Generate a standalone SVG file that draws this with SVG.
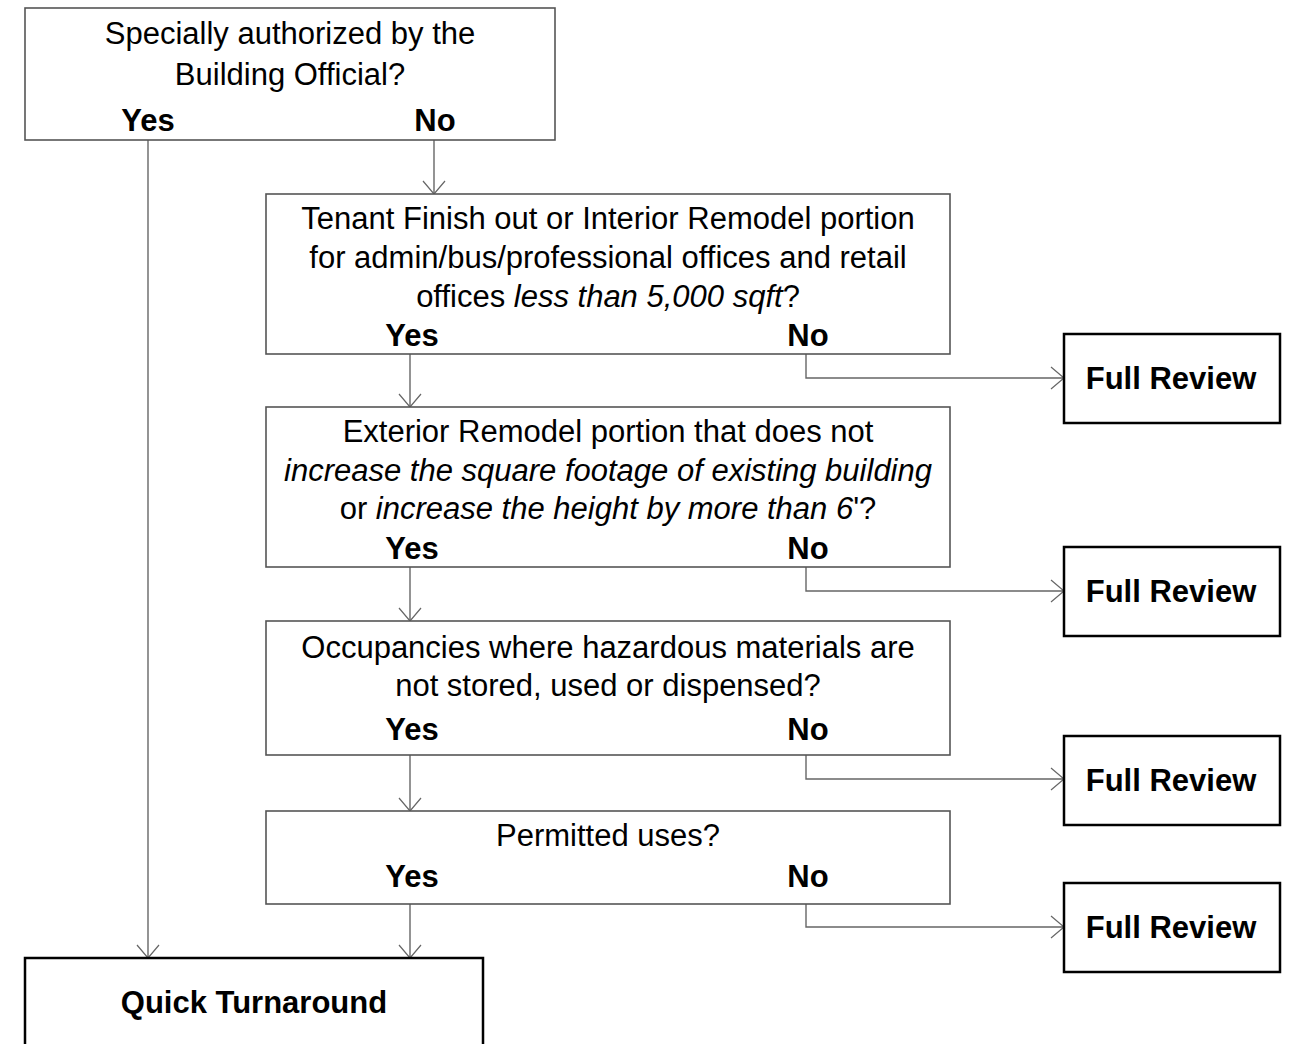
<svg xmlns="http://www.w3.org/2000/svg" width="1291" height="1044" viewBox="0 0 1291 1044">
<style>
.q{fill:#fff;stroke:#555;stroke-width:1.6}
.r{fill:#fff;stroke:#000;stroke-width:2.5}
text{font-family:"Liberation Sans",Arial,sans-serif;font-size:31px;fill:#000;text-anchor:middle}
.b{font-weight:bold}
.i{font-style:italic}
.c{fill:none;stroke:#666;stroke-width:1.4}
</style>
<defs>
<marker id="a" viewBox="0 0 16 24" refX="14" refY="12" markerWidth="16" markerHeight="24" markerUnits="userSpaceOnUse" orient="auto">
<path d="M1,1 L14,12 L1,23" fill="none" stroke="#666" stroke-width="1.2"/>
</marker>
</defs>
<rect width="1291" height="1044" fill="#fff"/>
<g id="connectors">
<path class="c" d="M148,140 V958" marker-end="url(#a)"/>
<path class="c" d="M434,140 V194" marker-end="url(#a)"/>
<path class="c" d="M410,354 V407" marker-end="url(#a)"/>
<path class="c" d="M410,567 V621" marker-end="url(#a)"/>
<path class="c" d="M410,755 V811" marker-end="url(#a)"/>
<path class="c" d="M410,904 V958" marker-end="url(#a)"/>
<path class="c" d="M806,354 V378 H1064" marker-end="url(#a)"/>
<path class="c" d="M806,567 V591 H1064" marker-end="url(#a)"/>
<path class="c" d="M806,755 V779 H1064" marker-end="url(#a)"/>
<path class="c" d="M806,904 V927 H1064" marker-end="url(#a)"/>
</g>
<g id="q1">
<rect class="q" x="25" y="8" width="530" height="132"/>
<text x="290" y="44">Specially authorized by the</text>
<text x="290" y="85">Building Official?</text>
<text class="b" x="148" y="131">Yes</text>
<text class="b" x="435" y="131">No</text>
</g>
<g id="q2">
<rect class="q" x="266" y="194" width="684" height="160"/>
<text x="608" y="229">Tenant Finish out or Interior Remodel portion</text>
<text x="608" y="268">for admin/bus/professional offices and retail</text>
<text x="608" y="307">offices <tspan class="i">less than 5,000 sqft</tspan>?</text>
<text class="b" x="412" y="346">Yes</text>
<text class="b" x="808" y="346">No</text>
</g>
<g id="q3">
<rect class="q" x="266" y="407" width="684" height="160"/>
<text x="608" y="442">Exterior Remodel portion that does not</text>
<text class="i" x="608" y="481">increase the square footage of existing building</text>
<text x="608" y="519">or <tspan class="i">increase the height by more than 6</tspan>'?</text>
<text class="b" x="412" y="559">Yes</text>
<text class="b" x="808" y="559">No</text>
</g>
<g id="q4">
<rect class="q" x="266" y="621" width="684" height="134"/>
<text x="608" y="658">Occupancies where hazardous materials are</text>
<text x="608" y="696">not stored, used or dispensed?</text>
<text class="b" x="412" y="740">Yes</text>
<text class="b" x="808" y="740">No</text>
</g>
<g id="q5">
<rect class="q" x="266" y="811" width="684" height="93"/>
<text x="608" y="846">Permitted uses?</text>
<text class="b" x="412" y="887">Yes</text>
<text class="b" x="808" y="887">No</text>
</g>
<g id="fr1"><rect class="r" x="1064" y="334" width="216" height="89"/><text class="b" x="1171" y="389">Full Review</text></g>
<g id="fr2"><rect class="r" x="1064" y="547" width="216" height="89"/><text class="b" x="1171" y="602">Full Review</text></g>
<g id="fr3"><rect class="r" x="1064" y="736" width="216" height="89"/><text class="b" x="1171" y="791">Full Review</text></g>
<g id="fr4"><rect class="r" x="1064" y="883" width="216" height="89"/><text class="b" x="1171" y="938">Full Review</text></g>
<g id="qt"><rect class="r" x="25" y="958" width="458" height="100"/><text class="b" x="254" y="1013">Quick Turnaround</text></g>
</svg>
